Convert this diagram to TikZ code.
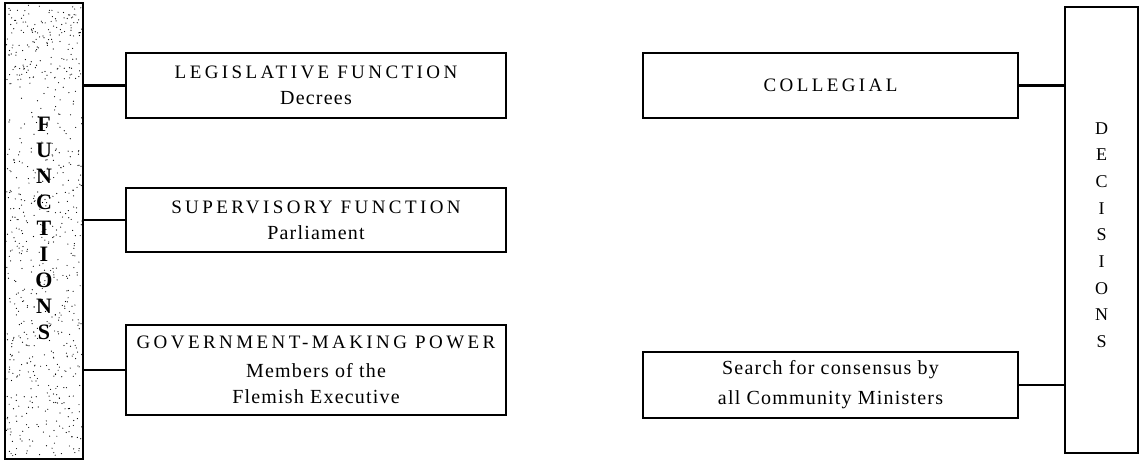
\documentclass[tikz,border=0pt]{standalone}
\usepackage{fontspec}
\setmainfont{Liberation Serif}
\newfontfamily\capsfam[LetterSpace=18]{Liberation Serif}
\newfontfamily\midfam[LetterSpace=6]{Liberation Serif}
\newcommand\capf{\capsfam\fontsize{19}{27}\selectfont}
\newcommand\lowf{\midfam\fontsize{20}{26}\selectfont}
\newcommand\vertbf{\bfseries\fontsize{22}{26}\selectfont}
\newcommand\vertrm{\fontsize{18}{26.7}\selectfont}
\tikzset{
  box/.style={draw, line width=2pt, inner sep=0pt, align=center, minimum width=380pt, font=\lowf},
  bar/.style={draw, line width=2.6pt, inner sep=0pt, align=center},
  link/.style={line width=2.2pt},
}
\begin{document}
\begin{tikzpicture}[x=1pt,y=-1pt]
\useasboundingbox (0,0) rectangle (1140,462);
% left bar
\node[bar, minimum width=78pt, minimum height=456pt] (fbar) at (44,231) {};
\begin{scope}
\clip (5,3) rectangle (83,459);
\pgfmathsetseed{12}
\foreach \i in {1,...,170} {\fill ({6+76*rnd},{5+75*rnd}) circle (0.6);}
\foreach \i in {1,...,50} {\fill ({6+76*rnd},{80+70*rnd}) circle (0.6);}
\foreach \i in {1,...,480} {\fill ({6+76*rnd},{150+306*rnd}) circle (0.6);}
\end{scope}
\node[font=\vertbf, align=center, inner sep=0pt] (ftext) at (44,228) {F\\U\\N\\C\\T\\I\\O\\N\\S};
% right bar
\node[bar, minimum width=73pt, minimum height=446pt] (dbar) at (1101.5,230) {};
\node[font=\vertrm, align=center, inner sep=0pt] (dtext) at (1101.5,235) {D\\E\\C\\I\\S\\I\\O\\N\\S};
% left boxes
\node[box, minimum height=65pt] (leg) at (316,85.5) {{\capf LEGISLATIVE\hspace{8pt}FUNCTION}\\Decrees};
\node[box, minimum height=64pt] (sup) at (316,220) {{\capf SUPERVISORY\hspace{8pt}FUNCTION}\\Parliament};
\node[box, minimum height=90pt] (gov) at (316,370) {{\capf GOVERNMENT-MAKING POWER}\\[3pt]Members of the\\Flemish Executive};
% right boxes
\node[box, minimum width=375pt, minimum height=65pt] (col) at (830.5,85.5) {{\capf COLLEGIAL}};
\node[box, minimum width=375pt, minimum height=66pt] (cons) at (830.5,385) {Search for consensus by\\[4pt]all Community Ministers};
% connectors
\draw[link] (fbar.east |- leg.west) -- (leg.west);
\draw[link] (fbar.east |- sup.west) -- (sup.west);
\draw[link] (fbar.east |- gov.west) -- (gov.west);
\draw[link] (col.east) -- (dbar.west |- col.east);
\draw[link] (cons.east) -- (dbar.west |- cons.east);
\end{tikzpicture}
\end{document}
